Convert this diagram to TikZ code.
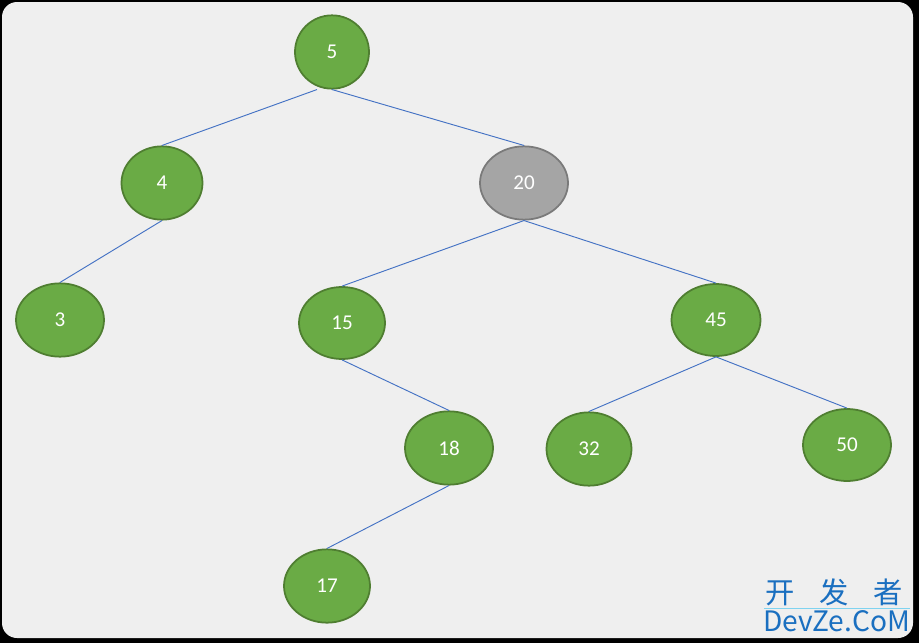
\documentclass[tikz,border=0pt]{standalone}
\usepackage{fontspec}
\setmainfont{Carlito}
\newfontfamily\cjkfont{Noto Sans CJK SC}
\usetikzlibrary{shapes.geometric}
\definecolor{nodegreen}{HTML}{6AAB45}
\definecolor{nodegreenline}{HTML}{4F7E31}
\definecolor{nodegray}{HTML}{A5A5A5}
\definecolor{nodegrayline}{HTML}{7A7A7A}
\definecolor{edgeblue}{HTML}{4472C4}
\definecolor{panelgray}{HTML}{EFEFEF}
\definecolor{wmblue}{HTML}{1A6FC0}
\definecolor{wmcyan}{HTML}{7FD3F0}

\begin{document}
\begin{tikzpicture}[x=0.03cm, y=-0.03cm,
  treenode/.style={ellipse, fill=nodegreen, draw=nodegreenline, line width=1.5pt,
    text=white, inner sep=0pt, minimum height=2.2cm, font=\fontsize{18}{20}\selectfont},
  graynode/.style={treenode, fill=nodegray, draw=nodegrayline},
  link/.style={draw=edgeblue, line width=0.8pt}]
% panel
\fill[black] (0,0) rectangle (919,643);
\fill[panelgray, rounded corners=0.45cm] (2,2) rectangle (913,638);

% nodes
\node[treenode, minimum width=2.22cm] (n5)  at (332,52)  {5};
\node[treenode, minimum width=2.43cm] (n4)  at (162,183) {4};
\node[graynode, minimum width=2.64cm] (n20) at (524,183) {20};
\node[treenode, minimum width=2.64cm] (n3)  at (60,320)  {3};
\node[treenode, minimum width=2.58cm, minimum height=2.16cm] (n15) at (342,323) {15};
\node[treenode, minimum width=2.67cm, minimum height=2.16cm] (n45) at (716,320) {45};
\node[treenode, minimum width=2.64cm] (n18) at (449,448) {18};
\node[treenode, minimum width=2.55cm] (n32) at (589,449) {32};
\node[treenode, minimum width=2.64cm, minimum height=2.16cm] (n50) at (847,445) {50};
\node[treenode, minimum width=2.58cm] (n17) at (327,586) {17};

% edges
\draw[link] ([xshift=-0.45cm]n5.south) -- (n4.north);
\draw[link] (n5.south) -- (n20.north);
\draw[link] (n4.south) -- (n3.north);
\draw[link] (n20.south) -- (n15.north);
\draw[link] (n20.south) -- (n45.north);
\draw[link] (n15.south) -- (n18.north);
\draw[link] (n45.south) -- (n32.north);
\draw[link] (n45.south) -- (n50.north);
\draw[link] (n18.south) -- (n17.north);

% watermark
\node[text=wmblue, font=\cjkfont\fontsize{25}{28}\selectfont, inner sep=0pt] (wmcn) at (834,592) {开\hspace{0.85em}发\hspace{0.85em}者};
\coordinate (wml) at (764,608);
\coordinate (wmr) at (910,608);
\draw[wmcyan, line width=0.6pt] (wml) -- (wmr);
\node[text=wmblue, font=\cjkfont\fontsize{24}{26}\selectfont, inner sep=0pt, anchor=base west] (wmen) at (763,631) {DevZe.CoM};
\end{tikzpicture}
\end{document}
